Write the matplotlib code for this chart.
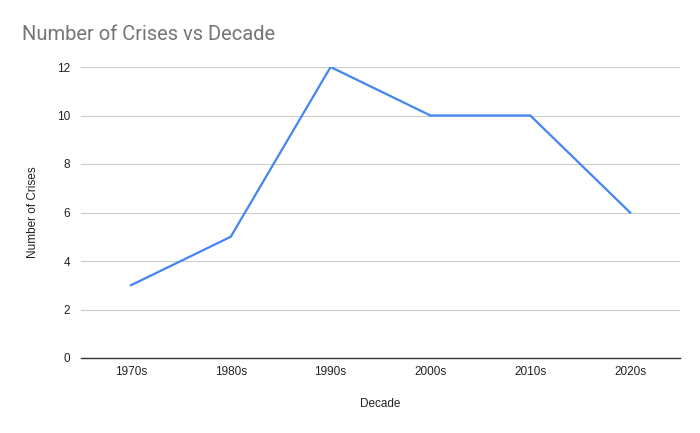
import matplotlib
matplotlib.use("Agg")
import matplotlib.pyplot as plt

decades = ["1970s", "1980s", "1990s", "2000s", "2010s", "2020s"]
crises = [3, 5, 12, 10, 10, 6]
yticks = [0, 2, 4, 6, 8, 10, 12]

plt.rcParams["font.family"] = ["Liberation Sans", "DejaVu Sans"]

fig = plt.figure(figsize=(7, 4.33), dpi=100)
ax = fig.add_axes([81/700, 1-358/433, 599/700, (358-67)/433])

x = list(range(len(decades)))
ax.plot(x, crises, color="#4285F4", lw=1.6, solid_joinstyle="miter")

ax.set_xlim(-0.5, len(decades)-0.5)
ax.set_ylim(0, 12)
ax.set_xticks(x)
ax.set_xticklabels(decades)
ax.set_yticks(yticks)
ax.grid(axis="y", color="#cccccc", lw=0.8)
ax.set_axisbelow(True)
for s in ["top", "right", "left"]:
    ax.spines[s].set_visible(False)
ax.spines["bottom"].set_color("#333333")
ax.spines["bottom"].set_linewidth(1.0)
ax.spines["bottom"].set_zorder(3)
ax.tick_params(length=0, labelsize=8.5, colors="#222222", pad=6)
ax.tick_params(axis="y", pad=8)

ax.set_xlabel("Decade", fontsize=8.5, color="#222222", labelpad=14)
ax.set_ylabel("Number of Crises", fontsize=8.5, color="#222222", labelpad=13)

fig.text(22/700, 1-35/433, "Number of Crises vs Decade", fontsize=14.5,
         color="#757575", family=["Roboto", "DejaVu Sans"], va="center", ha="left")

plt.savefig("out.png", dpi=100, facecolor="white")
